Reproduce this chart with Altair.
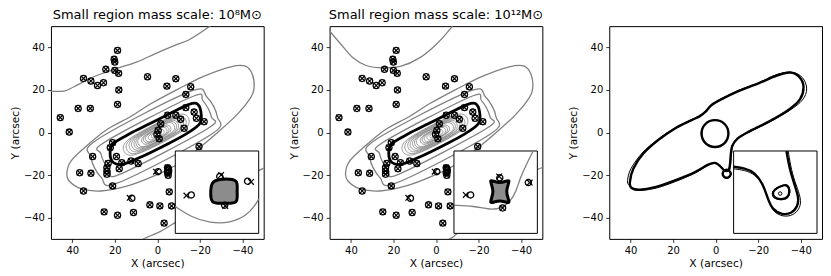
import altair as alt
import pandas as pd

# ------------------------------------------------------------------ data
X_TICKS = [40, 20, 0, -20, -40]
Y_TICKS = [-40, -20, 0, 20, 40]
PANEL_TITLES = ["Small region mass scale: 10⁸M⊙", "Small region mass scale: 10¹²M⊙"]
INSET_XR = [-11, 1]
INSET_YR = [-24, -12]

# dense inner gray contours (shared by panels 1 and 2)
DENSE_LOOPS = [
    [(-14.6, 6.9), (-9.9, 8.5), (2.6, 3.1), (14.3, -4.0), (15.6, -8.9), (10.9, -10.5), (-1.6, -5.1), (-13.3, 2.0)],
    [(-13.2, 6.2), (-8.9, 7.8), (2.5, 2.8), (13.1, -3.7), (14.3, -8.2), (9.9, -9.8), (-1.5, -4.8), (-12.1, 1.7)],
    [(-11.9, 5.5), (-8.0, 7.0), (2.4, 2.6), (11.9, -3.3), (12.9, -7.5), (9.0, -9.0), (-1.4, -4.6), (-10.9, 1.3)],
    [(-10.8, 4.9), (-7.1, 6.3), (2.2, 2.3), (10.9, -3.1), (11.8, -6.9), (8.1, -8.3), (-1.2, -4.3), (-9.9, 1.1)],
    [(-9.7, 4.3), (-6.4, 5.7), (2.1, 2.0), (9.9, -2.8), (10.7, -6.3), (7.4, -7.7), (-1.1, -4.0), (-8.9, 0.8)],
    [(-8.8, 3.9), (-5.8, 5.1), (1.9, 1.8), (9.1, -2.7), (9.8, -5.9), (6.8, -7.1), (-0.9, -3.8), (-8.1, 0.7)],
    [(-7.9, 3.4), (-5.2, 4.6), (1.8, 1.6), (8.3, -2.5), (8.9, -5.4), (6.2, -6.6), (-0.8, -3.6), (-7.3, 0.5)],
    [(-6.2, 2.5), (-3.9, 3.5), (1.6, 1.1), (6.7, -2.1), (7.2, -4.5), (4.9, -5.5), (-0.6, -3.1), (-5.7, 0.1)],
    [(-5.3, 2.0), (-3.3, 2.9), (1.5, 0.9), (5.9, -1.9), (6.3, -4.0), (4.3, -4.9), (-0.5, -2.9), (-4.9, -0.1)],
    [(-4.4, 1.5), (-2.7, 2.4), (1.4, 0.7), (5.1, -1.7), (5.4, -3.5), (3.7, -4.4), (-0.4, -2.7), (-4.1, -0.3)],
    [(-3.1, 0.9), (-1.8, 1.5), (1.2, 0.2), (3.9, -1.5), (4.1, -2.9), (2.8, -3.5), (-0.2, -2.2), (-2.9, -0.5)],
    [(-1.7, 0.2), (-0.9, 0.6), (1.0, -0.1), (2.6, -1.2), (2.7, -2.2), (1.9, -2.6), (0.0, -1.9), (-1.6, -0.8)],
]

# outer closed gray contours (shared)
OUTER_LOOPS = [
    [(-16.0, 16.7), (-21.4, 15.0), (-25.4, 7.3), (-23.7, 1.9), (17.1, -19.4), (22.5, -17.7), (26.5, -10.0), (24.8, -4.6)],
    [(-15.2, 19.2), (-23.3, 16.7), (-28.2, 7.4), (-25.6, -0.7), (18.3, -23.6), (26.4, -21.1), (31.2, -11.7), (28.7, -3.6)],
    [(42.5, -18.9), (40.6, -13.4), (33.5, -6.5), (23.5, 1.5), (12.5, 7.5), (3.1, 13.5), (-9.5, 20.3),
     (-22.0, 26.5), (-34.5, 30.9), (-41.5, 31.2), (-44.7, 27.3), (-45.5, 21.0), (-43.9, 16.4),
     (-37.6, 8.5), (-28.2, -0.1), (-18.9, -7.9), (-9.5, -14.9), (1.5, -20.4), (14.0, -25.1),
     (26.5, -27.5), (35.9, -26.4), (41.4, -22.8)],
]

# open gray contours, per panel
P1_OPEN = [
    [(52, 19.5), (43.9, 19.5), (39.2, 21.5), (29.9, 26.2), (18.9, 30.1), (9.5, 33.2), (0.9, 37.1),
     (-8.5, 41.1), (-14.7, 43.5), (-23, 48.8), (-27, 52)],
    [(7.5, -52), (6.6, -50.1), (-1.3, -46.6), (-9.1, -41.9), (-20, -35), (-32, -27), (-42, -21),
     (-46.6, -18.5), (-49.8, -16.9), (-52, -16)],
]
P2_OPEN = [
    [(52, 50), (50, 47.7), (45.3, 42.2), (39.0, 35.1), (32.8, 31.5), (25.0, 30.4), (16.4, 31.2),
     (7.7, 35.1), (-0.1, 41.4), (-7.1, 49.2), (-8.5, 52)],
    [(-5, -52), (-6.3, -50), (-9.5, -47.8), (-25, -33), (-40, -21), (-47.8, -17.3), (-52, -16)],
]

# thick black contour and small lens contour (shared)
BLACK_LOOPS = [
    [(-18.5, 13.6), (-20.5, 9.7), (-20.0, 4.2), (-13.8, -0.5), (-4.4, -5.6), (6.6, -11.0), (16.0, -14.9),
     (20.7, -14.1), (22.2, -9.9), (20.7, -5.2), (12.8, -0.5), (3.4, 4.2), (-7.5, 9.7), (-14.6, 13.1)],
    [(-4.2, -16.2), (-5.8, -16.0), (-6.4, -17.5), (-6.0, -19.6), (-4.6, -19.8), (-3.9, -18.0)],
]

# image positions (circles) and model positions (crosses)
CIRCLE_X = [18.7, 20.3, 20.0, 24.2, 20.0, 18.2, 34.7, 31.2, 28.1, 25.3, 18.1, 18.7, 37.2, 31.5, 45.6, 41.4,
            4.6, -4.5, -8.7, -15.7, -13.4, -13.4, -17.3, -18.4, -22.0, -4.8, -8.7, -11.0, -12.6, -1.6,
            -0.4, 0.2, -0.9, 21.0, 22.1, -19.6, 30.4, 19.2, 16.7, 12.4, 9.0, 23.1, 23.7, 23.7, 23.7,
            17.9, 36.5, 31.2, 21.0, 34.7, -0.4, -4.8, -4.8, -5.1, -5.6, 12.0, 3.5, -1.2, -6.7, 25.0,
            18.7, 11.2, -3.2]
CIRCLE_Y = [38.6, 34.4, 33.1, 29.7, 29.2, 27.8, 25.4, 24.2, 22.1, 23.4, 20.0, 13.2, 11.3, 11.3, 7.0, 0.2,
            26.2, 21.8, 25.3, 21.5, 17.9, 11.7, 9.6, 6.7, 5.1, 8.1, 8.1, 6.2, 2.0, 4.1,
            1.0, -0.9, -2.9, -4.8, -7.1, -6.6, -11.3, -11.3, -14.2, -13.4, -14.6, -14.5, -16.5, -18.1, -19.6,
            -17.0, -18.9, -19.2, -25.1, -27.5, -18.4, -16.5, -18.9, -20.1, -27.9, -30.9, -34.0, -34.5, -34.5, -37.3,
            -38.9, -37.6, -42.6]
CROSS_X = [18.7, 20.3, 20.0, 24.2, 20.0, 18.2, 34.7, 31.2, 28.1, 25.3, 18.1, 18.7, 37.2, 31.5, 45.6, 41.4,
           4.6, -4.5, -8.7, -15.7, -13.4, -13.4, -17.3, -18.4, -22.0, -4.8, -8.7, -11.0, -12.6, -1.6,
           -0.4, 0.2, -0.9, 21.0, 22.1, -19.6, 30.4, 19.2, 16.7, 12.4, 9.0, 23.1, 23.7, 23.7, 23.7,
           17.9, 36.5, 31.2, 21.0, 34.7, 0.6, -4.8, -4.8, -5.1, -5.6, 13.0, 3.5, -1.2, -6.7, 25.0,
           18.7, 11.2, -3.2]
CROSS_Y = [38.6, 34.4, 33.1, 29.7, 29.2, 27.8, 25.4, 24.2, 22.1, 23.4, 20.0, 13.2, 11.3, 11.3, 7.0, 0.2,
           26.2, 21.8, 25.3, 21.5, 17.9, 11.7, 9.6, 6.7, 5.1, 8.1, 8.1, 6.2, 2.0, 4.1,
           1.0, -0.9, -2.9, -4.8, -7.1, -6.6, -11.3, -11.3, -14.2, -13.4, -14.6, -14.5, -16.5, -18.1, -19.6,
           -17.0, -18.9, -19.2, -25.1, -27.5, -18.4, -16.5, -18.9, -20.1, -27.9, -30.7, -34.0, -34.5, -34.5, -37.3,
           -38.9, -37.6, -42.6]

# insets of panels 1 and 2
P1_INSET_CURVE = [(1, -20.1), (-1.2, -21.6), (-4.0, -22.5), (-6.9, -22.5), (-9.3, -21.4), (-10.5, -19.9), (-11, -19.0)]
P1_INSET_BLOB = [(-4.5, -16.5), (-6.0, -16.1), (-7.7, -16.4), (-7.9, -17.9), (-7.7, -19.4), (-6.0, -19.6),
                 (-4.4, -19.4), (-4.1, -17.9)]
P1_INSET_CIRCLE_X = [-5.4, -1.3, -9.4, -6.1]
P1_INSET_CIRCLE_Y = [-15.7, -18.4, -16.4, -19.9]
P1_INSET_CROSS_X = [-5.6, -0.6, -9.9, -6.2]
P1_INSET_CROSS_Y = [-15.5, -18.5, -16.5, -20.0]

P2_INSET_CURVE = [(1, -19.9), (-1.9, -20.0), (-4.2, -20.6), (-5.9, -20.3), (-7.1, -19.4), (-7.95, -17.9),
                  (-8.5, -16.0), (-9.4, -14.0), (-10.4, -12.0)]
P2_INSET_BLOB = [(-3.8, -15.8), (-5.6, -17.0), (-7.4, -15.8), (-6.2, -17.9), (-7.4, -20.0), (-5.6, -18.9),
                 (-3.8, -20.0), (-5.0, -17.9)]
P2_INSET_CIRCLE_X = [-5.6, -1.4, -9.7, -6.0]
P2_INSET_CIRCLE_Y = [-15.9, -18.4, -16.6, -20.3]
P2_INSET_CROSS_X = [-5.5, -0.7, -9.9, -6.0]
P2_INSET_CROSS_Y = [-15.7, -18.4, -16.6, -20.3]

# panel 3: critical curves (two models: thick and thin)
P3_THICK = [
    [(40.3, -23.3), (38.7, -17.0), (34.0, -9.9), (27.0, -3.6), (19.1, 1.9), (11.3, 5.8), (7.4, 7.7), (4.7, 9.8),
     (1.9, 12.9), (-2.8, 15.7), (-10.7, 19.5), (-20.1, 23.1), (-28.7, 26.8), (-35.0, 28.2), (-39.2, 26.3),
     (-41.3, 21.6), (-39.7, 15.7), (-34.2, 10.6), (-24.8, 5.0), (-15.4, 0.3), (-10.4, -2.8), (-7.8, -6.3),
     (-7.1, -10.7), (-6.7, -15.4), (-6.0, -17.8), (-4.1, -17.8), (-2.0, -15.7), (0.3, -14.3), (3.5, -15.1),
     (9.7, -18.6), (19.1, -22.5), (28.5, -25.7), (35.6, -26.9), (39.5, -26.1)],
    [(6.6, -0.5), (4.8, 4.0), (0.3, 5.8), (-4.2, 4.0), (-6.0, -0.5), (-4.2, -5.0), (0.3, -6.8), (4.8, -5.0)],
    [(-3.3, -19.4), (-3.9, -18.1), (-5.2, -17.5), (-6.5, -18.1), (-7.1, -19.4), (-6.5, -20.7), (-5.2, -21.3), (-3.9, -20.7)],
]
P3_THIN = [
    [(41.4, -22.5), (39.8, -17.0), (34.5, -9.6), (27.3, -3.3), (19.3, 2.1), (11.5, 6.0), (7.5, 7.9), (4.8, 10.0),
     (2.0, 13.0), (-2.8, 15.9), (-10.7, 19.8), (-20.3, 23.4), (-29.0, 27.3), (-35.8, 28.3), (-40.8, 25.8),
     (-42.8, 20.5), (-40.8, 15.3), (-34.8, 10.4), (-25.1, 4.8), (-15.6, 0.1), (-10.6, -2.9), (-8.1, -6.4),
     (-7.4, -10.7), (-7.0, -15.5), (-6.2, -18.0), (-4.0, -18.0), (-1.9, -15.9), (0.3, -14.6), (3.5, -15.4),
     (9.6, -19.0), (19.0, -23.1), (28.7, -26.3), (37.2, -27.2), (40.6, -24.9)],
    [(6.8, -0.6), (4.9, 4.1), (0.2, 5.9), (-4.4, 4.0), (-6.1, -0.6), (-4.2, -5.1), (0.3, -6.9), (4.9, -5.1)],
    [(-3.4, -19.3), (-4.0, -18.0), (-5.3, -17.4), (-6.6, -18.0), (-7.2, -19.4), (-6.5, -20.8), (-5.1, -21.4), (-3.8, -20.8)],
]
P3_INSET_THICK_OPEN = [(1, -14.3), (-0.6, -14.5), (-2.0, -15.1), (-3.2, -16.7), (-3.9, -18.9), (-4.6, -20.6),
                       (-6.0, -21.3), (-7.4, -21.1), (-8.2, -20.1), (-8.4, -18.9), (-7.8, -17.0), (-7.1, -14.8),
                       (-6.6, -12.0)]
P3_INSET_THIN_OPEN = [(1, -14.6), (-0.6, -14.8), (-2.1, -15.4), (-3.3, -17.0), (-4.0, -19.1), (-4.7, -20.9),
                      (-6.1, -21.6), (-7.6, -21.4), (-8.6, -20.3), (-8.7, -18.9), (-8.0, -17.0), (-7.3, -14.8),
                      (-6.85, -12.0)]
P3_INSET_LOOP_THICK = [(-4.7, -18.0), (-5.3, -17.4), (-6.5, -17.0), (-7.0, -17.7), (-6.7, -18.7), (-5.8, -19.0), (-4.9, -18.7)]
P3_INSET_LOOP_THIN = [(-4.6, -18.0), (-5.3, -17.3), (-6.6, -16.9), (-7.1, -17.7), (-6.8, -18.8), (-5.8, -19.1), (-4.8, -18.8)]
P3_INSET_DOT_X = [-5.7]
P3_INSET_DOT_Y = [-18.2]

# ------------------------------------------------------------------ helpers
def loops_df(loops, prefix):
    rows = []
    for i, loop in enumerate(loops):
        for j, (x, y) in enumerate(loop):
            rows.append({"id": f"{prefix}{i}", "o": j, "x": x, "y": y})
    return pd.DataFrame(rows)


def pts_df(xs, ys):
    return pd.DataFrame({"x": xs, "y": ys})


MAIN_XS = alt.Scale(domain=[-50, 50], reverse=True, nice=False, zero=False)
MAIN_YS = alt.Scale(domain=[-50, 50], nice=False, zero=False)
INSET_XS = alt.Scale(domain=INSET_XR, reverse=True, range=[124.5, 208], nice=False, zero=False)
INSET_YS = alt.Scale(domain=INSET_YR, range=[207.5, 125], nice=False, zero=False)
X_AXIS = alt.Axis(values=X_TICKS, title="X (arcsec)")
Y_AXIS = alt.Axis(values=Y_TICKS, title="Y (arcsec)")
XSHAPE = "M-1,-1L1,1M-1,1L1,-1"
GRAY = "#808080"


def mx():
    return alt.X("x:Q", scale=MAIN_XS, axis=X_AXIS)


def my():
    return alt.Y("y:Q", scale=MAIN_YS, axis=Y_AXIS)


def ix():
    return alt.X("x:Q", scale=INSET_XS, axis=None)


def iy():
    return alt.Y("y:Q", scale=INSET_YS, axis=None)


def lines(df, xe, ye, **kw):
    return alt.Chart(df).mark_line(clip=True, **kw).encode(
        x=xe, y=ye, detail="id:N", order="o:Q")


def markers(cx, cy, cxx, cxy, xe, ye):
    c = alt.Chart(pts_df(cx, cy)).mark_point(shape="circle", filled=False, color="black",
                                             size=38, strokeWidth=1.3, opacity=1).encode(x=xe, y=ye)
    k = alt.Chart(pts_df(cxx, cxy)).mark_point(shape=XSHAPE, filled=False, color="black",
                                               size=32, strokeWidth=1.2, opacity=1).encode(x=xe, y=ye)
    return [c, k]


def inset_frame():
    df = pd.DataFrame({"x": [INSET_XR[1]], "x2": [INSET_XR[0]], "y": [INSET_YR[1]], "y2": [INSET_YR[0]]})
    return alt.Chart(df).mark_rect(fill="white", stroke="black", strokeWidth=1).encode(
        x=ix(), x2="x2:Q", y=iy(), y2="y2:Q")


def lens_panel(open_lines, inset_curve, inset_blob, blob_interp, icx, icy, ikx, iky, title):
    main = alt.layer(
        lines(loops_df(OUTER_LOOPS, "g"), mx(), my(), color=GRAY, strokeWidth=1.3, interpolate="cardinal-closed"),
        lines(loops_df(open_lines, "op"), mx(), my(), color=GRAY, strokeWidth=1.3, interpolate="cardinal"),
        lines(loops_df(DENSE_LOOPS, "d"), mx(), my(), color=GRAY, strokeWidth=0.8, interpolate="cardinal-closed"),
        lines(loops_df(BLACK_LOOPS, "b"), mx(), my(), color="black", strokeWidth=2.8, interpolate="cardinal-closed"),
        *markers(CIRCLE_X, CIRCLE_Y, CROSS_X, CROSS_Y, mx(), my()),
    )
    inset = alt.layer(
        inset_frame(),
        lines(loops_df([inset_curve], "ic"), ix(), iy(), color=GRAY, strokeWidth=1.3, interpolate="basis"),
        lines(loops_df([inset_blob], "ib"), ix(), iy(), color="black", fill="#8c8c8c", strokeWidth=3,
              interpolate=blob_interp),
        *markers(icx, icy, ikx, iky, ix(), iy()),
    )
    return alt.layer(main, inset).resolve_scale(x="independent", y="independent").properties(
        width=213, height=213,
        title=alt.TitleParams(title, fontSize=13, fontWeight="normal", offset=4, color="black"))


p1 = lens_panel(P1_OPEN, P1_INSET_CURVE, P1_INSET_BLOB, "cardinal-closed", P1_INSET_CIRCLE_X, P1_INSET_CIRCLE_Y,
                P1_INSET_CROSS_X, P1_INSET_CROSS_Y, PANEL_TITLES[0])
p2 = lens_panel(P2_OPEN, P2_INSET_CURVE, P2_INSET_BLOB, "basis-closed", P2_INSET_CIRCLE_X, P2_INSET_CIRCLE_Y,
                P2_INSET_CROSS_X, P2_INSET_CROSS_Y, PANEL_TITLES[1])

p3_main = alt.layer(
    lines(loops_df(P3_THIN, "t"), mx(), my(), color="black", strokeWidth=1.0, interpolate="cardinal-closed"),
    lines(loops_df(P3_THICK, "k"), mx(), my(), color="black", strokeWidth=2.4, interpolate="cardinal-closed"),
)
p3_inset = alt.layer(
    inset_frame(),
    lines(loops_df([P3_INSET_THIN_OPEN], "a"), ix(), iy(), color="black", strokeWidth=1.0, interpolate="basis"),
    lines(loops_df([P3_INSET_THICK_OPEN], "b"), ix(), iy(), color="black", strokeWidth=2.4, interpolate="basis"),
    lines(loops_df([P3_INSET_LOOP_THIN], "c"), ix(), iy(), color="black", strokeWidth=1.0, interpolate="cardinal-closed"),
    lines(loops_df([P3_INSET_LOOP_THICK], "d"), ix(), iy(), color="black", strokeWidth=2.2, interpolate="cardinal-closed"),
    alt.Chart(pts_df(P3_INSET_DOT_X, P3_INSET_DOT_Y)).mark_point(shape="circle", filled=False, color="black",
                                                               size=12, strokeWidth=1, opacity=1).encode(x=ix(), y=iy()),
)
p3 = alt.layer(p3_main, p3_inset).resolve_scale(x="independent", y="independent").properties(width=213, height=213)

chart = alt.hconcat(p1, p2, p3, spacing=22).properties(
    padding={"left": 0, "top": 0, "right": 0, "bottom": 0}
).configure(font="DejaVu Sans").configure_view(stroke="black", strokeWidth=1).configure_axis(
    domain=False, grid=False, tickColor="black", tickSize=3.5, tickWidth=0.8,
    labelFontSize=10, labelColor="black", labelPadding=3, labelFont="DejaVu Sans",
    titleFontSize=10.7, titleFontWeight="normal", titleColor="black", titlePadding=3, titleFont="DejaVu Sans"
).configure_title(font="DejaVu Sans")

chart.save("out.html", embed_options={"renderer": "svg", "actions": False})
